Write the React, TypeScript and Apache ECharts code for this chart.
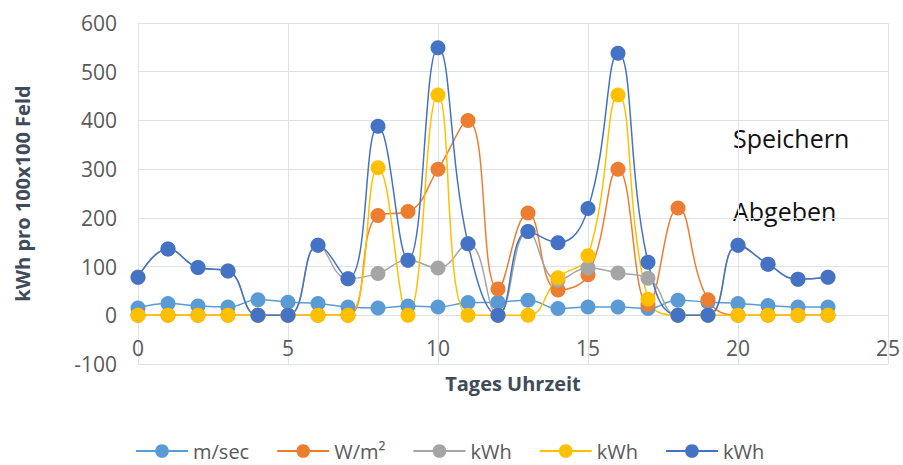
import React, { useEffect, useRef } from "react";
import * as echarts from "echarts";

const hours = [0, 1, 2, 3, 4, 5, 6, 7, 8, 9, 10, 11, 12, 13, 14, 15, 16, 17, 18, 19, 20, 21, 22, 23];
const windSpeed = [15, 24, 19, 17, 32, 27, 24, 17, 15, 19, 17, 26, 27, 31, 14, 17, 17, 14, 31, 27, 24, 20, 17, 17];
const radiation = [0, 0, 0, 0, 0, 0, 0, 0, 205, 213, 300, 400, 54, 210, 52, 83, 300, 22, 220, 32, 0, 0, 0, 0];
const windKwh = [78, 136, 98, 91, 0, 0, 144, 75, 86, 113, 97, 147, 0, 172, 72, 97, 87, 76, 0, 0, 144, 105, 74, 78];
const solarKwh = [0, 0, 0, 0, 0, 0, 0, 0, 303, 0, 452, 0, 0, 0, 77, 122, 452, 33, 0, 0, 0, 0, 0, 0];
const totalKwh = [78, 136, 98, 91, 0, 0, 144, 75, 388, 113, 549, 147, 0, 172, 149, 219, 538, 109, 0, 0, 144, 105, 74, 78];
// trailing spaces keep the three "kWh" legend entries distinct; trimmed for display
const seriesNames = ["m/sec", "W/m²", "kWh", "kWh ", "kWh  "];
const seriesColors = ["#5B9BD5", "#ED7D31", "#A5A5A5", "#FFC000", "#4472C4"];
const threshold = 300;
const yTicks = { min: -100, max: 600, interval: 100 };
const xTicks = { min: 0, max: 25, interval: 5 };

export default function App() {
  const ref = useRef<HTMLDivElement>(null);
  useEffect(() => {
    if (!ref.current) return;
    const chart = echarts.init(ref.current, null, { renderer: "svg" });
    const allValues = [windSpeed, radiation, windKwh, solarKwh, totalKwh];
    const gridColor = "#dde2ea";
    const series: any[] = allValues.map((vals, i) => ({
      name: seriesNames[i],
      type: "line",
      smooth: 0.45,
      symbol: "circle",
      symbolSize: 15,
      data: hours.map((h, k) => [h, vals[k]]),
      itemStyle: { color: seriesColors[i] },
      lineStyle: { color: seriesColors[i], width: 1.5 },
    }));
    series[0].markLine = {
      silent: true,
      symbol: ["none", "none"],
      label: { show: false },
      lineStyle: { color: "#5B9BD5", width: 1.5, type: "solid" },
      data: [[{ coord: [-0.1, threshold] }, { coord: [24.63, threshold] }]],
    };
    chart.setOption({
      animation: false,
      textStyle: { fontFamily: "Open Sans" },
      grid: { left: 138, right: 15, top: 23, bottom: 101 },
      legend: {
        left: 130,
        top: 436,
        width: 770,
        itemWidth: 52,
        itemHeight: 17,
        itemGap: 27,
        formatter: (name: string) => name.trim(),
        textStyle: { fontSize: 20, lineHeight: 20, color: "#595959", fontFamily: "Open Sans" },
        data: seriesNames.map((n) => ({ name: n })),
      },
      xAxis: {
        type: "value",
        min: xTicks.min,
        max: xTicks.max,
        interval: xTicks.interval,
        name: "Tages Uhrzeit",
        nameLocation: "middle",
        nameGap: 9,
        nameTextStyle: { fontSize: 20, fontWeight: "bold", color: "#404b5a", fontFamily: "Open Sans" },
        axisLine: { show: false, onZero: false },
        axisTick: { show: false },
        axisLabel: { fontSize: 21, color: "#595959", margin: -27 },
        splitLine: { show: true, lineStyle: { color: gridColor } },
      },
      yAxis: {
        type: "value",
        min: yTicks.min,
        max: yTicks.max,
        interval: yTicks.interval,
        name: "kWh pro 100x100 Feld",
        nameLocation: "middle",
        nameGap: 106,
        nameTextStyle: { fontSize: 20, fontWeight: "bold", color: "#404b5a", fontFamily: "Open Sans" },
        axisLine: { show: false },
        axisTick: { show: false },
        axisLabel: { fontSize: 21, color: "#595959", margin: 21 },
        splitLine: { show: true, lineStyle: { color: gridColor } },
      },
      graphic: [
        {
          type: "text",
          x: 733,
          y: 138,
          style: { text: "Speichern", fill: "#111", font: '25px "Open Sans"', verticalAlign: "middle" },
        },
        {
          type: "text",
          x: 733,
          y: 211,
          style: { text: "Abgeben", fill: "#111", font: '25px "Open Sans"', verticalAlign: "middle" },
        },
      ],
      series,
    });
    return () => chart.dispose();
  }, []);
  return <div ref={ref} style={{ width: 903, height: 465, position: "absolute", left: 0, top: 0 }} />;
}
